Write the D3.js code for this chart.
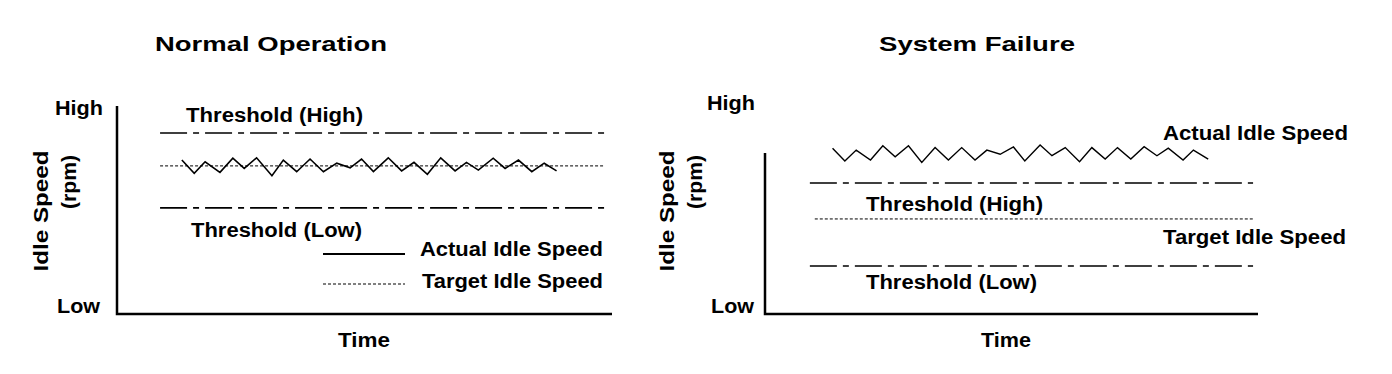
<!DOCTYPE html>
<html><head><meta charset="utf-8">
<script src="https://cdn.jsdelivr.net/npm/d3@7"></script>
<style>
body{margin:0;background:#fff;}
text{font-family:"Liberation Sans",Arial,sans-serif;font-weight:bold;fill:#000;}
</style></head>
<body><svg id="c" width="1392" height="374"></svg>
<script>
// ---- data (time 0..100, idle speed 0=Low .. 100=High) ----
const panelTitles = ["Normal Operation", "System Failure"];
const yTickLabels = ["Low", "High"];
const yTickValues = [0, 100];

// Normal operation
const normalActualTime  = [13.1,15.6,17.8,20.8,23.4,25.7,28.2,31.3,33.6,36.3,39.0,41.7,44.4,47.1,49.4,51.8,54.8,57.5,60.0,62.7,65.4,68.3,70.6,73.0,76.0,78.4,81.1,83.8,86.3,88.8];
const normalActualSpeed = [74.0,67.6,73.2,68.1,74.9,70.0,75.1,66.5,74.0,68.4,74.5,68.4,72.5,70.3,74.5,68.5,75.1,68.8,72.9,67.2,75.1,68.8,72.9,69.2,74.9,70.0,74.0,68.4,72.5,68.8];
const normalTarget = 71.2, normalThrHigh = 87.0, normalThrLow = 51.0;

// System failure
const failActualTime  = [13.7,16.2,18.5,21.4,23.9,26.4,29.1,31.8,34.5,37.2,39.9,42.6,45.0,47.7,50.4,52.7,55.8,58.2,60.9,63.8,66.3,69.0,71.5,74.2,76.9,79.5,81.8,84.8,86.9,89.9];
const failActualSpeed = [79.7,73.6,78.8,74.0,80.9,75.6,80.9,72.9,80.0,74.0,80.0,74.0,78.8,76.8,80.3,73.6,81.3,76.1,80.0,73.2,80.0,74.5,80.0,74.5,80.4,76.1,79.7,74.0,78.8,74.5];
const failTarget = 45.7, failThrHigh = 63.0, failThrLow = 23.1;

const svg = d3.select("#c");
const y = d3.scaleLinear().domain([0,100]).range([314,106]);
const xL = d3.scaleLinear().domain([0,100]).range([117,612]);
const xR = d3.scaleLinear().domain([0,100]).range([765,1258]);

function txt(g, s, x, yy, w, size, rot) {
  const t = g.append("text").text(s).attr("font-size", size)
    .attr("textLength", w).attr("lengthAdjust", "spacingAndGlyphs");
  if (rot) {
    t.attr("transform", `translate(${x},${yy}) rotate(-90)`).attr("text-anchor","middle");
  } else {
    t.attr("x", x).attr("y", yy);
  }
  return t;
}
const line = (x) => d3.line().x(d => x(d[0])).y(d => y(d[1]));

function hline(x, x0, x1, v, dash, w) {
  svg.append("path").attr("d", line(x)([[x0,v],[x1,v]]))
    .attr("stroke","#000").attr("stroke-width",w).attr("fill","none")
    .attr("stroke-dasharray", dash);
}

// ---------- Left panel ----------
// axes
svg.append("path").attr("d", line(xL)([[0,100],[0,0],[100,0]]))
  .attr("fill","none").attr("stroke","#000").attr("stroke-width",2.5);
hline(xL, 8.7, 98.6, normalThrHigh, "27,6,6,6", 1.6);
hline(xL, 8.7, 98.6, normalThrLow, "27,6,6,6", 1.6);
hline(xL, 8.7, 98.2, normalTarget, "3,2", 1);
svg.append("path").attr("d", line(xL)(normalActualTime.map((t,i)=>[t, normalActualSpeed[i]])))
  .attr("fill","none").attr("stroke","#000").attr("stroke-width",1.6).attr("stroke-linejoin","miter");
// legend
svg.append("line").attr("x1",323).attr("x2",405).attr("y1",254).attr("y2",254).attr("stroke","#000").attr("stroke-width",1.8);
svg.append("line").attr("x1",323).attr("x2",405).attr("y1",284).attr("y2",284).attr("stroke","#000").attr("stroke-width",1).attr("stroke-dasharray","3,2");

txt(svg, panelTitles[0], 155, 51, 232, 21);
txt(svg, yTickLabels[1], 55, y(yTickValues[1])+9, 48, 20);
txt(svg, yTickLabels[0], 57, y(yTickValues[0])-1, 43, 20);
txt(svg, "Idle Speed", 48, 211, 121, 20, true);
txt(svg, "(rpm)", 76, 182, 54, 20, true);
txt(svg, "Time", 338, 347, 52, 20);
txt(svg, "Threshold (High)", 186, 122, 177, 20);
txt(svg, "Threshold (Low)", 191, 237, 171, 20);
txt(svg, "Actual Idle Speed", 420, 256, 183, 20);
txt(svg, "Target Idle Speed", 422, 288, 181, 20);

// ---------- Right panel ----------
svg.append("path").attr("d", line(xR)([[0,77.4],[0,0],[100,0]]))
  .attr("fill","none").attr("stroke","#000").attr("stroke-width",2.5);
hline(xR, 9.1, 99.0, failThrHigh, "27,6,6,6", 1.6);
hline(xR, 9.1, 99.0, failThrLow, "27,6,6,6", 1.6);
hline(xR, 10.1, 99.0, failTarget, "3,2", 1);
svg.append("path").attr("d", line(xR)(failActualTime.map((t,i)=>[t, failActualSpeed[i]])))
  .attr("fill","none").attr("stroke","#000").attr("stroke-width",1.4);

txt(svg, panelTitles[1], 879, 51, 196, 21);
txt(svg, yTickLabels[1], 707, y(yTickValues[1])+4, 48, 20);
txt(svg, yTickLabels[0], 711, y(yTickValues[0])-1, 43, 20);
txt(svg, "Idle Speed", 674, 211, 121, 20, true);
txt(svg, "(rpm)", 702, 182, 54, 20, true);
txt(svg, "Time", 981, 347, 50, 20);
txt(svg, "Actual Idle Speed", 1163, 140, 185, 20);
txt(svg, "Threshold (High)", 866, 211, 177, 20);
txt(svg, "Target Idle Speed", 1163, 244, 183, 20);
txt(svg, "Threshold (Low)", 866, 289, 171, 20);
</script></body></html>
